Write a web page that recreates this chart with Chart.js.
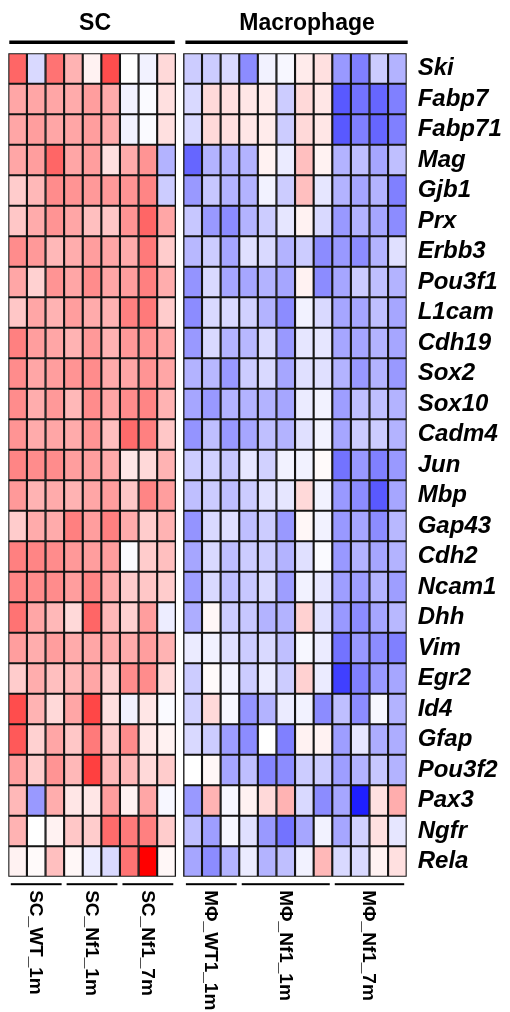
<!DOCTYPE html>
<html>
<head>
<meta charset="utf-8">
<script src="https://cdn.jsdelivr.net/npm/chart.js@4.4.1/dist/chart.umd.min.js"></script>
<style>
  html, body { margin: 0; padding: 0; background: #fff; }
  #heatmap { display: block; }
</style>
</head>
<body>
<canvas id="heatmap" width="510" height="1012"></canvas>
<script>
// Gene rows, top to bottom
const genes = ['Ski', 'Fabp7', 'Fabp71', 'Mag', 'Gjb1', 'Prx', 'Erbb3', 'Pou3f1', 'L1cam', 'Cdh19',
  'Sox2', 'Sox10', 'Cadm4', 'Jun', 'Mbp', 'Gap43', 'Cdh2', 'Ncam1', 'Dhh', 'Vim', 'Egr2',
  'Id4', 'Gfap', 'Pou3f2', 'Pax3', 'Ngfr', 'Rela'];

// relative expression (-1 blue .. 0 white .. 1 red), one row per gene
const scValues = [
  [0.6, -0.15, 0.55, 0.3, 0.05, 0.7, 0, -0.05, 0.15],
  [0.35, 0.35, 0.35, 0.33, 0.38, 0.33, -0.05, -0.02, 0.12],
  [0.35, 0.38, 0.35, 0.35, 0.38, 0.33, -0.05, -0.02, 0.12],
  [0.35, 0.38, 0.6, 0.35, 0.38, 0.12, 0.33, 0.42, -0.3],
  [0.2, 0.28, 0.45, 0.42, 0.4, 0.4, 0.42, 0.48, -0.2],
  [0.22, 0.33, 0.42, 0.35, 0.25, 0.22, 0.42, 0.6, 0.35],
  [0.45, 0.4, 0.28, 0.32, 0.38, 0.35, 0.33, 0.52, 0.2],
  [0.35, 0.18, 0.42, 0.35, 0.45, 0.35, 0.38, 0.5, 0.32],
  [0.22, 0.35, 0.3, 0.38, 0.33, 0.3, 0.5, 0.52, 0.2],
  [0.5, 0.38, 0.35, 0.3, 0.4, 0.3, 0.4, 0.42, 0.35],
  [0.45, 0.35, 0.38, 0.42, 0.45, 0.33, 0.35, 0.42, 0.35],
  [0.45, 0.32, 0.4, 0.28, 0.45, 0.35, 0.45, 0.48, 0.3],
  [0.42, 0.33, 0.35, 0.33, 0.42, 0.25, 0.58, 0.5, 0.22],
  [0.48, 0.45, 0.45, 0.38, 0.38, 0.33, 0.1, 0.15, 0.3],
  [0.4, 0.3, 0.33, 0.3, 0.35, 0.38, 0.22, 0.48, 0.38],
  [0.2, 0.33, 0.33, 0.5, 0.38, 0.5, 0.33, 0.2, 0.3],
  [0.5, 0.48, 0.45, 0.4, 0.38, 0.38, -0.02, 0.2, 0.25],
  [0.48, 0.45, 0.45, 0.38, 0.48, 0.33, 0.2, 0.22, 0.2],
  [0.55, 0.35, 0.28, 0.15, 0.6, 0.28, 0.18, 0.38, -0.07],
  [0.38, 0.32, 0.38, 0.33, 0.35, 0.32, 0.33, 0.38, 0.3],
  [0.2, 0.32, 0.25, 0.28, 0.35, 0.18, 0.45, 0.45, 0.15],
  [0.7, 0.3, 0.15, 0.35, 0.72, 0.12, -0.05, 0.1, -0.02],
  [0.65, 0.18, 0.35, 0.22, 0.52, 0.2, 0.45, 0.1, 0.05],
  [0.38, 0.2, 0.42, 0.28, 0.75, 0.28, 0.28, 0.15, 0.2],
  [0.28, -0.4, 0.32, 0.1, 0.1, 0.38, 0.05, 0.35, -0.03],
  [0.3, 0, 0.05, 0.22, 0.2, 0.58, 0.52, 0.5, 0.2],
  [0.05, 0.02, 0.25, 0.03, -0.08, -0.15, 0.55, 1.0, 0.03]
];

const macValues = [
  [-0.2, -0.2, -0.15, -0.45, -0.05, -0.03, 0.08, 0.12, -0.4, -0.5, -0.2, -0.3],
  [-0.15, 0.15, 0.12, 0.1, 0.08, -0.2, 0.15, 0.1, -0.65, -0.55, -0.6, -0.5],
  [-0.15, 0.15, 0.12, 0.1, 0.08, -0.2, 0.15, 0.1, -0.65, -0.5, -0.6, -0.5],
  [-0.6, -0.3, -0.3, -0.3, 0.05, -0.08, 0.25, 0.05, -0.3, -0.25, -0.35, -0.25],
  [-0.4, -0.22, -0.3, -0.3, -0.05, -0.2, 0.25, -0.1, -0.3, -0.35, -0.3, -0.5],
  [-0.22, -0.4, -0.45, -0.3, -0.2, -0.1, 0.05, -0.15, -0.4, -0.3, -0.35, -0.45],
  [-0.28, -0.2, -0.35, -0.12, -0.15, -0.3, -0.2, -0.45, -0.4, -0.45, -0.3, -0.12],
  [-0.42, -0.15, -0.35, -0.35, -0.3, -0.35, 0.05, -0.45, -0.35, -0.2, -0.25, -0.3],
  [-0.45, -0.15, -0.15, -0.18, -0.3, -0.45, -0.05, -0.15, -0.35, -0.35, -0.25, -0.35],
  [-0.4, -0.15, -0.3, -0.28, -0.15, -0.4, -0.1, -0.1, -0.35, -0.35, -0.3, -0.35],
  [-0.3, -0.28, -0.4, -0.2, -0.15, -0.35, -0.12, -0.12, -0.3, -0.4, -0.3, -0.4],
  [-0.35, -0.4, -0.3, -0.3, -0.3, -0.35, -0.08, -0.05, -0.38, -0.25, -0.25, -0.3],
  [-0.42, -0.25, -0.4, -0.35, -0.25, -0.3, -0.12, -0.05, -0.35, -0.2, -0.2, -0.3],
  [-0.2, -0.18, -0.22, -0.1, -0.18, -0.05, -0.05, 0.02, -0.55, -0.4, -0.5, -0.4],
  [-0.25, -0.2, -0.25, -0.2, -0.12, -0.1, 0.15, -0.05, -0.4, -0.45, -0.65, -0.35],
  [-0.42, -0.15, -0.12, -0.25, -0.2, -0.4, 0.03, -0.05, -0.4, -0.35, -0.45, -0.28],
  [-0.35, -0.15, -0.25, -0.2, -0.2, -0.3, -0.12, -0.02, -0.4, -0.3, -0.35, -0.3],
  [-0.38, -0.15, -0.25, -0.22, -0.15, -0.38, -0.05, -0.1, -0.38, -0.38, -0.3, -0.38],
  [-0.32, 0.03, -0.2, -0.22, -0.3, -0.3, 0.18, -0.12, -0.4, -0.45, -0.35, -0.28],
  [-0.08, -0.05, -0.12, -0.2, -0.15, -0.25, -0.03, -0.08, -0.55, -0.4, -0.45, -0.5],
  [-0.2, 0.02, -0.05, -0.2, -0.08, -0.2, 0.18, -0.08, -0.75, -0.5, -0.4, -0.35],
  [-0.18, 0.15, -0.03, -0.42, -0.3, -0.08, -0.05, -0.45, -0.25, -0.45, -0.03, -0.3],
  [-0.15, -0.2, -0.38, -0.45, 0, -0.5, 0.05, 0.05, -0.38, -0.1, -0.32, -0.32],
  [0, 0.03, -0.35, -0.25, -0.48, -0.45, -0.2, -0.2, -0.38, -0.3, -0.22, -0.3],
  [-0.4, 0.3, -0.03, 0.05, 0.15, 0.3, -0.15, -0.45, -0.35, -0.88, 0.12, 0.32],
  [-0.25, -0.38, -0.03, -0.12, -0.4, -0.55, -0.35, -0.05, -0.35, -0.18, 0.12, -0.1],
  [-0.35, -0.45, -0.3, -0.08, -0.3, -0.25, -0.05, 0.28, -0.15, -0.15, 0.05, 0.12]
];

// sample groups: label, first column, last column (exclusive)
const scGroups = [['SC_WT_1m', 0, 3], ['SC_Nf1_1m', 3, 6], ['SC_Nf1_7m', 6, 9]];
const macGroups = [['M\u03A6_WT1_1m', 0, 3], ['M\u03A6_Nf1_1m', 3, 8], ['M\u03A6_Nf1_7m', 8, 12]];

const nSC = 9;
const nMac = 12;
const gap = 0.41; // white gap between the two blocks, in column units

function colStart(block, j) {
  return block === 'sc' ? j : nSC + gap + j;
}

function heatColor(v) {
  const t = Math.round(255 * (1 - Math.min(1, Math.abs(v))));
  return v >= 0 ? `rgb(255,${t},${t})` : `rgb(${t},${t},255)`;
}

function buildDatasets() {
  const sets = [];
  for (let j = 0; j < nSC; j++) {
    sets.push({
      data: genes.map(() => [colStart('sc', j), colStart('sc', j) + 1]),
      backgroundColor: scValues.map(r => heatColor(r[j]))
    });
  }
  for (let j = 0; j < nMac; j++) {
    sets.push({
      data: genes.map(() => [colStart('mac', j), colStart('mac', j) + 1]),
      backgroundColor: macValues.map(r => heatColor(r[j]))
    });
  }
  sets.forEach(s => {
    s.borderColor = '#141414';
    s.borderWidth = 1.4;
    s.borderSkipped = false;
    s.grouped = false;
    s.barPercentage = 1;
    s.categoryPercentage = 1;
  });
  return sets;
}

// titles, bars and sample group labels around the heatmap
const annotations = {
  id: 'annotations',
  afterDraw(chart) {
    const ctx = chart.ctx;
    const x = chart.scales.x;
    const area = chart.chartArea;
    const px = v => x.getPixelForValue(v);
    ctx.save();
    ctx.fillStyle = '#000';
    ctx.strokeStyle = '#000';

    // block titles
    ctx.font = 'bold 23px "Liberation Sans", Arial, sans-serif';
    ctx.textAlign = 'center';
    ctx.textBaseline = 'alphabetic';
    ctx.fillText('SC', (px(0) + px(nSC)) / 2 + 3, 29.5);
    ctx.fillText('Macrophage', (px(colStart('mac', 0)) + px(colStart('mac', nMac))) / 2 + 12, 29.5);

    ctx.fillRect(px(0) + 1, 40.5, px(nSC) - px(0) - 2, 3.5);
    ctx.fillRect(px(colStart('mac', 0)) + 2, 40.5, px(colStart('mac', nMac)) - px(colStart('mac', 0)) - 1, 3.5);

    // sample group lines and rotated labels
    const lineY = area.bottom + 7.5;
    ctx.font = 'bold 19px "Liberation Sans", Arial, sans-serif';
    const drawGroups = (groups, block) => {
      groups.forEach(([label, a, b]) => {
        const x0 = px(colStart(block, a)) + 2.5;
        const x1 = px(colStart(block, b)) - 2.5;
        ctx.fillRect(x0, lineY - 1, x1 - x0, 2);
        ctx.save();
        ctx.translate((x0 + x1) / 2 - 1, lineY + 6);
        ctx.rotate(Math.PI / 2);
        ctx.textAlign = 'left';
        ctx.textBaseline = 'middle';
        ctx.fillText(label, 0, 0);
        ctx.restore();
      });
    };
    drawGroups(scGroups, 'sc');
    drawGroups(macGroups, 'mac');
    ctx.restore();
  }
};

document.addEventListener('DOMContentLoaded', function () {
  const ctx = document.getElementById('heatmap');
  new Chart(ctx, {
    type: 'bar',
    data: {
      labels: genes,
      datasets: buildDatasets()
    },
    options: {
      indexAxis: 'y',
      responsive: false,
      animation: false,
      layout: {
        padding: { left: 8.3, top: 53.3, bottom: 135.3, right: 0 }
      },
      plugins: {
        legend: { display: false },
        tooltip: { enabled: false },
        title: { display: false }
      },
      scales: {
        x: {
          type: 'linear',
          display: false,
          min: 0,
          max: nSC + gap + nMac
        },
        y: {
          position: 'right',
          grid: { display: false, drawTicks: false },
          border: { display: false },
          afterFit: scale => { scale.width = 103.3; },
          ticks: {
            autoSkip: false,
            padding: 11,
            color: '#000',
            font: { family: '"Liberation Sans", Arial, sans-serif', size: 24, style: 'italic', weight: 'bold' }
          }
        }
      }
    },
    plugins: [annotations]
  });
});
</script>
</body>
</html>
